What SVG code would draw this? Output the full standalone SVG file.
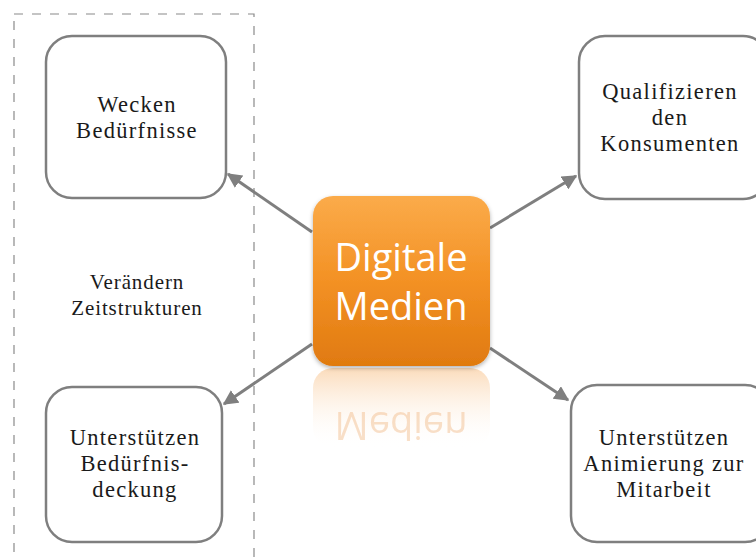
<svg xmlns="http://www.w3.org/2000/svg" width="756" height="559" viewBox="0 0 756 559">
<defs>
<style>
.box{fill:#fff;stroke:#7f7f7f;stroke-width:2.5}
.t{font-family:"Liberation Serif","Times New Roman",serif;font-size:22.5px;letter-spacing:1.3px;fill:#1a1a1a;text-anchor:middle}
.t2{font-family:"Liberation Serif","Times New Roman",serif;font-size:21px;letter-spacing:0.9px;fill:#1a1a1a;text-anchor:middle}
.c{stroke:#7f7f7f;stroke-width:3;fill:none;marker-end:url(#ah)}
.ct{font-family:"Open Sans","Liberation Sans",sans-serif;font-size:38px;fill:#fff;text-anchor:middle}
</style>
<marker id="ah" viewBox="0 0 10 10" refX="9" refY="5" markerWidth="5" markerHeight="5" orient="auto" markerUnits="strokeWidth">
<path d="M0,0 L10,5 L0,10 z" fill="#7f7f7f"/>
</marker>
<linearGradient id="og" x1="0" y1="0" x2="0" y2="1">
<stop offset="0" stop-color="#fbab4a"/>
<stop offset="0.5" stop-color="#f39124"/>
<stop offset="1" stop-color="#e07a10"/>
</linearGradient>
<linearGradient id="rg" x1="0" y1="0" x2="0" y2="1">
<stop offset="0" stop-color="#f7b877" stop-opacity="0.5"/>
<stop offset="1" stop-color="#ffffff" stop-opacity="0"/>
</linearGradient>
<filter id="sh" x="-20%" y="-20%" width="140%" height="140%">
<feDropShadow dx="0" dy="2" stdDeviation="2" flood-color="#000" flood-opacity="0.3"/>
</filter>
</defs>
<rect x="0" y="0" width="756" height="559" fill="#fff"/>
<rect id="zeitstrukturen-frame" x="14" y="14" width="240" height="560" fill="none" stroke="#8a8a8a" stroke-width="1.2" stroke-dasharray="9,9"/>
<g id="connectors">
<line class="c" x1="312" y1="232" x2="228" y2="174"/>
<line class="c" x1="490" y1="228" x2="576" y2="176"/>
<line class="c" x1="312" y1="344" x2="224" y2="404"/>
<line class="c" x1="490" y1="348" x2="568" y2="400"/>
</g>
<g id="node-wecken">
<rect class="box" x="46" y="36" width="180" height="162" rx="26"/>
<text class="t" x="137" y="112">Wecken</text>
<text class="t" x="137" y="138">Bedürfnisse</text>
</g>
<g id="node-verandern">
<text class="t2" x="137" y="289">Verändern</text>
<text class="t2" x="137" y="315">Zeitstrukturen</text>
</g>
<g id="node-qualifizieren">
<rect class="box" x="579" y="36" width="190" height="163" rx="26"/>
<text class="t" x="670" y="99">Qualifizieren</text>
<text class="t" x="670" y="125">den</text>
<text class="t" x="670" y="151">Konsumenten</text>
</g>
<g id="node-bedurfnisdeckung">
<rect class="box" x="46" y="387" width="176" height="155" rx="26"/>
<text class="t" x="135" y="445">Unterstützen</text>
<text class="t" x="135" y="471">Bedürfnis-</text>
<text class="t" x="135" y="497">deckung</text>
</g>
<g id="node-animierung">
<rect class="box" x="571" y="385" width="200" height="157" rx="26"/>
<text class="t" x="664" y="445">Unterstützen</text>
<text class="t" x="664" y="471">Animierung zur</text>
<text class="t" x="664" y="497">Mitarbeit</text>
</g>
<g id="node-digitale-medien">
<rect x="313" y="368" width="177" height="80" rx="20" fill="url(#rg)"/>
<text class="ct" x="401" y="-412" transform="scale(1,-1)" style="fill:#f0b27a;opacity:0.4">Medien</text>
<rect x="313" y="196" width="177" height="170" rx="20" fill="url(#og)" filter="url(#sh)"/>
<text class="ct" x="401" y="271">Digitale</text>
<text class="ct" x="401" y="320">Medien</text>
</g>
</svg>
